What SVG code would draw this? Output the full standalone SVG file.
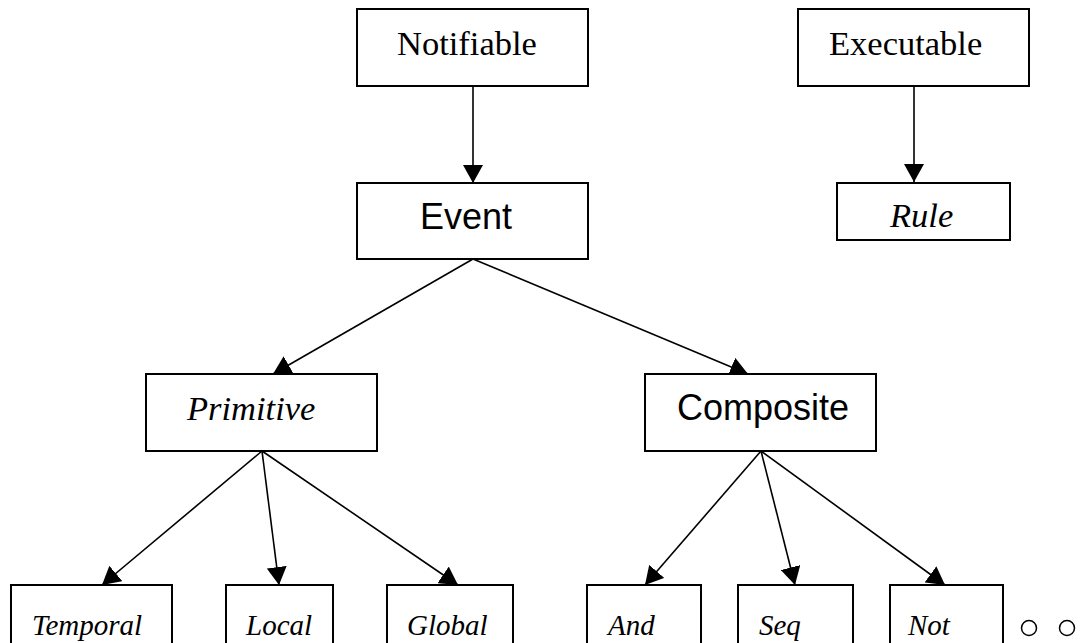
<svg xmlns="http://www.w3.org/2000/svg" width="1091" height="643" viewBox="0 0 1091 643">
<style>
.box{fill:#fff;stroke:#000;stroke-width:2}
.edge{stroke:#000;stroke-width:1.6;fill:none;marker-end:url(#arr)}
.serif{font-family:"Liberation Serif","Times New Roman",serif;font-size:34.5px;fill:#000}
.it{font-style:italic}
.sans{font-family:"Liberation Sans",Arial,sans-serif;font-size:36px;fill:#000}
.small{font-size:29px}
.dot{fill:none;stroke:#000;stroke-width:1.5}
</style>
<defs>
<marker id="arr" markerUnits="userSpaceOnUse" viewBox="0 0 18 20" refX="18" refY="10" markerWidth="18" markerHeight="20" orient="auto">
<path d="M0,0 L18,10 L0,20 Z" fill="#000"/>
</marker>
</defs>
<rect width="1091" height="643" fill="#fff"/>
<g id="connectors">
<line class="edge" x1="473" y1="86" x2="473" y2="183"/>
<line class="edge" x1="914" y1="86" x2="914" y2="182"/>
<line class="edge" x1="473" y1="259" x2="273" y2="374"/>
<line class="edge" x1="473" y1="259" x2="748" y2="374"/>
<line class="edge" x1="262" y1="451" x2="102" y2="585"/>
<line class="edge" x1="262" y1="451" x2="279" y2="585"/>
<line class="edge" x1="262" y1="451" x2="458" y2="585"/>
<line class="edge" x1="761" y1="451" x2="645" y2="585"/>
<line class="edge" x1="761" y1="451" x2="795" y2="585"/>
<line class="edge" x1="761" y1="451" x2="945" y2="585"/>
</g>
<g id="notifiable"><rect class="box" x="357" y="9" width="231" height="77"/><text class="serif" x="397" y="55">Notifiable</text></g>
<g id="executable"><rect class="box" x="798" y="9" width="231" height="77"/><text class="serif" x="829" y="55">Executable</text></g>
<g id="event"><rect class="box" x="357" y="183" width="231" height="76"/><text class="sans" x="420" y="229">Event</text></g>
<g id="rule"><rect class="box" x="837" y="183" width="173" height="57"/><text class="serif it" x="890" y="227">Rule</text></g>
<g id="primitive"><rect class="box" x="146" y="374" width="231" height="77"/><text class="serif it" x="187" y="420">Primitive</text></g>
<g id="composite"><rect class="box" x="645" y="374" width="231" height="77"/><text class="sans" x="677" y="420">Composite</text></g>
<g id="temporal"><rect class="box" x="11" y="585" width="161" height="70"/><text class="serif it small" x="32" y="635">Temporal</text></g>
<g id="local"><rect class="box" x="226" y="585" width="107" height="70"/><text class="serif it small" x="246" y="635">Local</text></g>
<g id="global"><rect class="box" x="387" y="585" width="126" height="70"/><text class="serif it small" x="407" y="635">Global</text></g>
<g id="and"><rect class="box" x="587" y="585" width="114" height="70"/><text class="serif it small" x="608" y="635">And</text></g>
<g id="seq"><rect class="box" x="738" y="585" width="115" height="70"/><text class="serif it small" x="759" y="635">Seq</text></g>
<g id="not"><rect class="box" x="890" y="585" width="113" height="70"/><text class="serif it small" x="908" y="635">Not</text></g>
<g id="ellipsis"><circle class="dot" cx="1029" cy="628" r="7.5"/><circle class="dot" cx="1067" cy="628" r="7.5"/></g>
</svg>
